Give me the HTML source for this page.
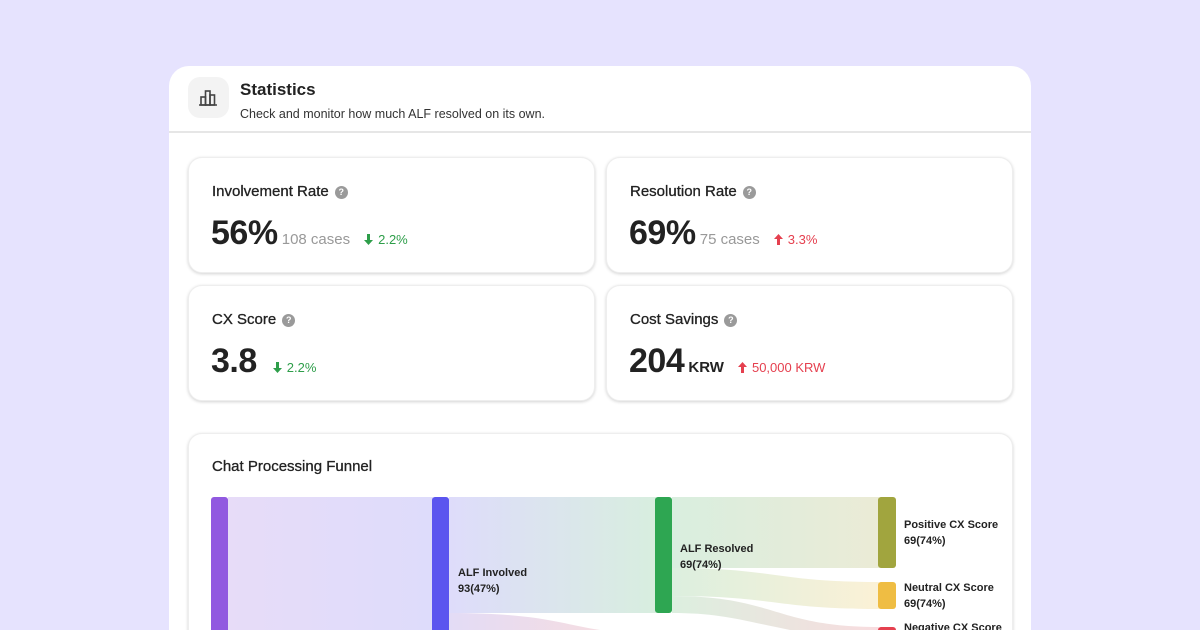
<!DOCTYPE html>
<html><head><style>
*{margin:0;padding:0;box-sizing:border-box}
html,body{width:1200px;height:630px;overflow:hidden}
body{background:#e6e3fe;font-family:"Liberation Sans",sans-serif;color:#222;position:relative}
.main{position:absolute;left:169px;top:66px;width:862px;height:564px;background:#fff;border-radius:20px 20px 0 0;overflow:hidden}
.hdr{height:67px;border-bottom:2px solid #e6e6e6;position:relative}
.ico{position:absolute;left:19px;top:11px;width:41px;height:41px;border-radius:12px;background:#f3f3f3}
.t1{position:absolute;left:71px;top:14px;font-size:17px;font-weight:bold;color:#222}
.t2{position:absolute;left:71px;top:41px;font-size:12.5px;color:#333}
.card{position:absolute;background:#fff;border-radius:14px;box-shadow:0 1px 3px rgba(0,0,0,.18);border:1px solid #eee}
.lab{position:absolute;left:23px;top:25px;font-size:15px;color:#222;-webkit-text-stroke:0.3px #222}
.q{display:inline-block;width:13px;height:13px;border-radius:50%;background:#9a9a9a;color:#fff;font-size:9px;font-weight:bold;text-align:center;line-height:13px;margin-left:6px;vertical-align:1px;-webkit-text-stroke:0}
.val{position:absolute;left:22px;top:56px;font-size:34px;font-weight:bold;color:#222;white-space:nowrap;letter-spacing:-0.5px}
.sub{font-size:15px;color:#999;font-weight:normal;letter-spacing:0}
.g,.r{font-size:13px;font-weight:normal;letter-spacing:0;margin-left:14px}
.g{color:#2e9e4a}.r{color:#e5404f}
.g svg,.r svg{margin-right:5px;vertical-align:-1px}
</style></head><body>
<div class="main">
 <div class="hdr">
  <div class="ico"><svg width="41" height="41"><g fill="none" stroke="#444" stroke-width="1.6"><rect x="13" y="20" width="4.5" height="8"/><rect x="17.5" y="14" width="4.5" height="14"/><rect x="22" y="18" width="4.5" height="10"/><line x1="11" y1="28" x2="29" y2="28"/></g></svg></div>
  <div class="t1">Statistics</div>
  <div class="t2">Check and monitor how much ALF resolved on its own.</div>
 </div>
 <div class="card" style="left:19px;top:91px;width:407px;height:116px"><div class="lab">Involvement Rate<span class="q">?</span></div><div class="val">56%<span class="sub"> 108 cases</span><span class="g"><svg width="9" height="11"><path d="M3 0h3v6h3L4.5 11 0 6h3z" fill="#2e9e4a"/></svg>2.2%</span></div></div>
 <div class="card" style="left:437px;top:91px;width:407px;height:116px"><div class="lab">Resolution Rate<span class="q">?</span></div><div class="val">69%<span class="sub"> 75 cases</span><span class="r"><svg width="9" height="11"><path d="M3 11h3V5h3L4.5 0 0 5h3z" fill="#e5404f"/></svg>3.3%</span></div></div>
 <div class="card" style="left:19px;top:219px;width:407px;height:116px"><div class="lab">CX Score<span class="q">?</span></div><div class="val">3.8<span class="g" style="margin-left:16px"><svg width="9" height="11"><path d="M3 0h3v6h3L4.5 11 0 6h3z" fill="#2e9e4a"/></svg>2.2%</span></div></div>
 <div class="card" style="left:437px;top:219px;width:407px;height:116px"><div class="lab">Cost Savings<span class="q">?</span></div><div class="val">204<span style="font-size:15px;color:#222;letter-spacing:0"> KRW</span><span class="r"><svg width="9" height="11"><path d="M3 11h3V5h3L4.5 0 0 5h3z" fill="#e5404f"/></svg>50,000 KRW</span></div></div>
 <div class="card" style="left:19px;top:367px;width:825px;height:220px"><div class="lab" style="left:23px;top:24px">Chat Processing Funnel</div></div>
</div>
<svg style="position:absolute;left:0;top:0" width="1200" height="630">
<defs>
<linearGradient id="a"><stop offset="0" stop-color="#e7dcf8"/><stop offset="1" stop-color="#dedcfb"/></linearGradient>
<linearGradient id="b"><stop offset="0" stop-color="#dedcfb"/><stop offset="1" stop-color="#d8eedf"/></linearGradient>
<linearGradient id="c"><stop offset="0" stop-color="#d9eedf"/><stop offset="1" stop-color="#ebebd6"/></linearGradient>
<linearGradient id="d"><stop offset="0" stop-color="#dcefdf"/><stop offset="1" stop-color="#fbf1d6"/></linearGradient>
<linearGradient id="e"><stop offset="0" stop-color="#dcefdf"/><stop offset="1" stop-color="#f8dcdf"/></linearGradient>
<linearGradient id="f"><stop offset="0" stop-color="#e3dcf6"/><stop offset="1" stop-color="#f5dde2"/></linearGradient>
</defs>
<rect x="228" y="497" width="205" height="133" fill="url(#a)"/>
<rect x="449" y="497" width="207" height="116" fill="url(#b)"/>
<path d="M449 613 C540 613 560 624 600 630 L449 630Z" fill="url(#f)"/>
<rect x="672" y="497" width="207" height="71" fill="url(#c)"/>
<path d="M672 568 C775 568 775 582 879 582 L879 609 C775 609 775 596 672 596Z" fill="url(#d)"/>
<path d="M672 596 C775 596 775 627 879 627 L879 630 L790 630 C740 620 720 613 672 613Z" fill="url(#e)"/>
<rect x="211" y="497" width="17" height="140" rx="3" fill="#9159e0"/>
<rect x="432" y="497" width="17" height="140" rx="3" fill="#5b55ef"/>
<rect x="655" y="497" width="17" height="116" rx="3" fill="#2ea652"/>
<rect x="878" y="497" width="18" height="71" rx="3" fill="#a1a53e"/>
<rect x="878" y="582" width="18" height="27" rx="3" fill="#efbd43"/>
<rect x="878" y="627" width="18" height="10" rx="3" fill="#e5404f"/>
<g font-size="11" font-weight="bold" fill="#222">
<text x="458" y="576">ALF Involved</text><text x="458" y="592">93(47%)</text>
<text x="680" y="552">ALF Resolved</text><text x="680" y="568">69(74%)</text>
<text x="904" y="528">Positive CX Score</text><text x="904" y="544">69(74%)</text>
<text x="904" y="591">Neutral CX Score</text><text x="904" y="607">69(74%)</text>
<text x="904" y="631">Negative CX Score</text>
</g>
</svg>
</body></html>
